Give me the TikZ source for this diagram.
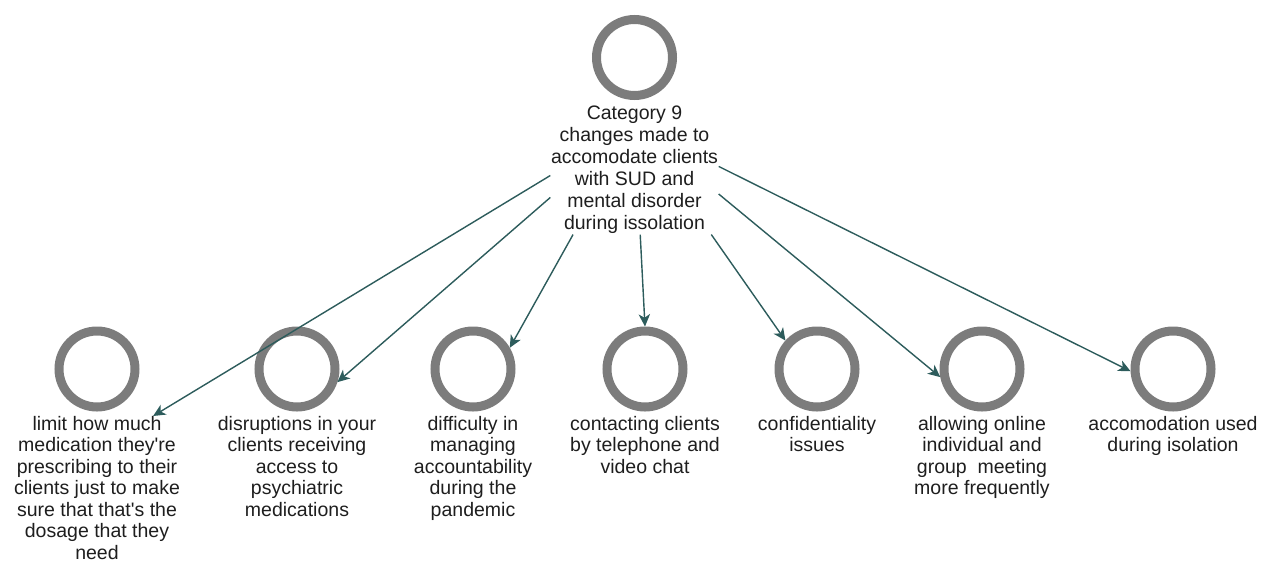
\documentclass[tikz,border=0pt]{standalone}
\usepackage{fontspec}
\setmainfont{Liberation Sans}
\usetikzlibrary{positioning,fit,arrows.meta}
\definecolor{ringgray}{RGB}{124,124,124}
\definecolor{linkteal}{RGB}{45,92,92}
\definecolor{txtgray}{RGB}{30,30,30}

\begin{document}
\begin{tikzpicture}[
  ring/.style={circle, draw=ringgray, line width=0.18cm, minimum size=1.52cm,
               inner sep=0pt},
  lbl/.style={align=center, inner sep=0pt, text=txtgray,
              font=\fontsize{11.1pt}{12.5pt}\selectfont},
  sublbl/.style={lbl, font=\fontsize{11.1pt}{12.2pt}\selectfont},
  link/.style={draw=linkteal, line width=0.8pt,
               -{Stealth[length=7pt, width=6.5pt, inset=2pt]}}]
  \useasboundingbox (0,0) rectangle (25.22,-11.28);
  % top category
  \node[ring] (cat) at (12.69,-1.15) {};
  \node[lbl, below=0.12cm of cat] (catlab) {Category 9\\changes made to\\accomodate clients\\with SUD and\\mental disorder\\during issolation};
  \node[fit=(cat)(catlab), inner sep=0pt] (catall) {};
  % codes
  \node[ring] (limit) at (1.94,-7.38) {};
  \node[ring] (disrupt) at (5.94,-7.38) {};
  \node[ring] (account) at (9.46,-7.38) {};
  \node[ring] (contact) at (12.90,-7.38) {};
  \node[ring] (confid) at (16.34,-7.38) {};
  \node[ring] (online) at (19.64,-7.38) {};
  \node[ring] (accom) at (23.46,-7.38) {};
  \node[sublbl, below=0.09cm of limit] (limitlab) {limit how much\\medication they\textquotesingle re\\prescribing to their\\clients just to make\\sure that that\textquotesingle s the\\dosage that they\\need};
  \node[sublbl, below=0.09cm of disrupt] (disruptlab) {disruptions in your\\clients receiving\\access to\\psychiatric\\medications};
  \node[sublbl, below=0.09cm of account] (accountlab) {difficulty in\\managing\\accountability\\during the\\pandemic};
  \node[sublbl, below=0.09cm of contact] (contactlab) {contacting clients\\by telephone and\\video chat};
  \node[sublbl, below=0.09cm of confid] (confidlab) {confidentiality\\issues};
  \node[sublbl, below=0.09cm of online] (onlinelab) {allowing online\\individual and\\group\ \ meeting\\more frequently};
  \node[sublbl, below=0.09cm of accom] (accomlab) {accomodation used\\during isolation};
  % links
  \draw[link] (catall) -- (limitlab.52);
  \draw[link] (catall) -- (disrupt.-18);
  \draw[link] (catall) -- (account.30);
  \draw[link] (catall) -- (contact.north);
  \draw[link] (catall) -- (confid.138);
  \draw[link] (catall) -- (online.191);
  \draw[link] (catall) -- (accom.183);
\end{tikzpicture}
\end{document}
